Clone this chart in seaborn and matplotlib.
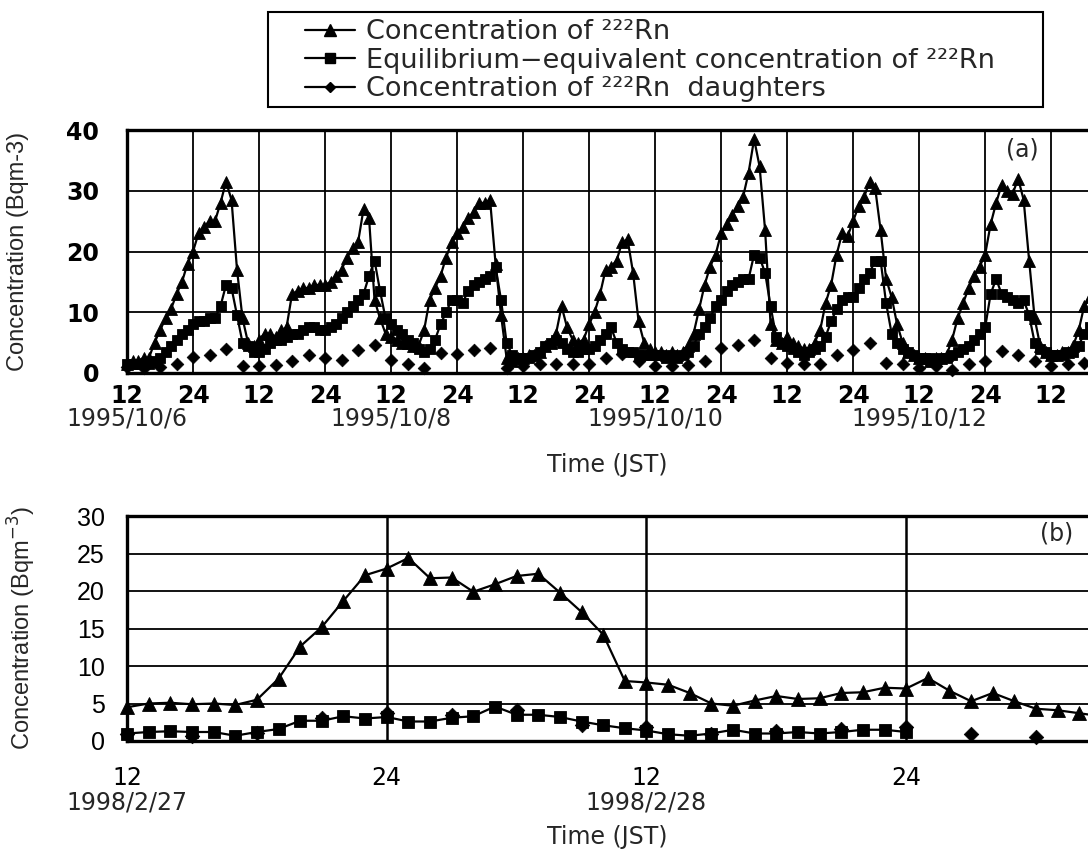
import numpy as np
import pandas as pd
import matplotlib
matplotlib.use("Agg")
import matplotlib.pyplot as plt
import matplotlib.transforms as mtrans
from matplotlib.lines import Line2D
from matplotlib.patches import Rectangle
import seaborn as sns

# ---------------- data : panel (a), hourly from 1995/10/6 12:00 JST ----------------
a_rn = [
    1.5, 2.0, 2.0, 2.5, 2.5, 5.0, 7.0, 9.0, 10.5, 13.0, 15.0, 18.0,
    20.0, 23.0, 24.0, 25.0, 25.0, 28.0, 31.5, 28.5, 17.0, 9.0, 5.0, 4.5,
    5.5, 6.5, 6.5, 6.0, 7.0, 7.5, 13.0, 13.5, 14.0, 14.0, 14.5, 14.5,
    14.5, 15.0, 16.0, 17.0, 19.0, 20.5, 21.5, 27.0, 25.5, 12.0, 9.0, 6.5,
    6.0, 5.5, 5.0, 5.0, 4.5, 4.5, 7.0, 12.0, 14.0, 16.0, 19.0, 21.5,
    23.0, 24.0, 25.5, 26.5, 28.0, 28.0, 28.5, 18.0, 9.5, 2.5, 2.0, 2.5,
    2.5, 3.0, 3.0, 3.5, 4.5, 5.0, 6.5, 11.0, 7.5, 5.5, 5.0, 5.5,
    8.0, 10.0, 13.0, 17.0, 17.5, 18.5, 21.5, 22.0, 16.5, 8.5, 5.0, 4.0,
    3.5, 3.5, 3.0, 3.5, 3.0, 3.5, 4.5, 6.5, 10.5, 14.5, 17.5, 19.5,
    23.0, 24.5, 26.0, 27.5, 29.0, 33.0, 38.5, 34.0, 23.5, 8.0, 5.5, 5.0,
    6.0, 5.0, 4.5, 4.0, 4.0, 5.0, 7.0, 11.5, 14.5, 19.5, 23.0, 22.5,
    25.0, 27.5, 29.0, 31.5, 30.5, 23.5, 15.5, 12.5, 8.0, 5.0, 3.5, 3.0,
    2.5, 2.5, 2.0, 2.5, 2.5, 3.0, 5.5, 9.0, 11.5, 14.0, 16.0, 17.5,
    19.5, 24.5, 28.0, 31.0, 30.0, 29.5, 32.0, 28.5, 18.5, 9.0, 4.5, 3.5,
    3.0, 3.0, 3.5, 3.5, 4.5, 7.0, 11.0, 12.5,
]
a_eec = [
    1.5, 1.5, 1.5, 1.5, 1.5, 2.0, 2.5, 3.5, 4.5, 5.5, 6.5, 7.0,
    8.0, 8.5, 8.5, 9.0, 9.0, 11.0, 14.5, 14.0, 9.5, 5.0, 4.5, 3.5,
    3.5, 4.0, 5.0, 5.5, 5.5, 6.0, 6.5, 6.5, 7.0, 7.5, 7.5, 7.0,
    7.0, 7.5, 8.0, 9.0, 10.0, 11.0, 12.0, 13.0, 16.0, 18.5, 13.5, 9.0,
    8.0, 7.0, 6.5, 5.5, 5.0, 4.0, 3.5, 4.0, 5.5, 8.0, 10.0, 12.0,
    12.0, 11.5, 13.5, 14.5, 15.0, 15.5, 16.0, 17.5, 12.0, 5.0, 3.0, 2.5,
    2.5, 2.5, 3.0, 3.5, 4.5, 5.0, 5.5, 5.0, 4.0, 3.5, 3.5, 4.0,
    4.0, 4.5, 5.5, 6.5, 7.5, 5.0, 4.0, 3.5, 3.5, 3.0, 3.0, 3.0,
    3.0, 3.0, 2.5, 3.0, 2.5, 3.0, 3.5, 4.5, 6.5, 7.5, 9.0, 11.0,
    12.0, 13.5, 14.5, 15.0, 15.5, 15.5, 19.5, 19.0, 16.5, 11.0, 6.0, 5.0,
    4.5, 4.0, 3.5, 3.0, 3.5, 4.0, 4.5, 6.0, 8.5, 10.5, 12.0, 12.5,
    12.5, 14.0, 15.5, 16.5, 18.5, 18.5, 11.5, 6.5, 5.0, 4.0, 3.5, 3.0,
    2.5, 2.5, 2.5, 2.0, 2.5, 2.5, 3.0, 3.5, 4.0, 4.5, 5.5, 6.5,
    7.5, 13.0, 15.5, 13.0, 12.5, 12.0, 11.5, 12.0, 9.5, 5.0, 4.0, 3.5,
    3.0, 3.0, 3.0, 3.5, 3.5, 4.5, 6.5, 7.5,
]
# daughters, every 3 hours
a_dau = [
    1.0, 0.8, 1.0, 1.5, 2.7, 2.9, 3.9, 1.1,
    1.1, 1.3, 2.0, 2.9, 2.5, 2.2, 3.8, 4.6,
    2.2, 1.4, 0.8, 3.3, 3.1, 3.8, 4.1, 0.8,
    1.1, 1.4, 1.5, 1.5, 1.4, 2.5, 3.1, 1.9,
    1.1, 1.2, 1.3, 2.0, 4.1, 4.6, 5.5, 2.5,
    1.6, 1.5, 1.5, 3.0, 3.8, 4.9, 1.6, 1.4,
    0.8, 1.1, 0.5, 1.4, 1.9, 3.6, 3.0, 1.9,
    1.1, 1.4, 1.6,
]
a_tick_labels = ["12", "24"]
a_dates = ["1995/10/6", "1995/10/8", "1995/10/10", "1995/10/12"]

# ---------------- data : panel (b), hourly from 1998/2/27 12:00 JST ----------------
b_rn = [
    4.5, 5.0, 5.1, 4.9, 5.0, 4.8, 5.5, 8.3, 12.6, 15.2, 18.7, 22.1,
    23.0, 24.4, 21.7, 21.8, 19.9, 20.9, 22.0, 22.3, 19.8, 17.2, 14.2, 8.0,
    7.8, 7.5, 6.4, 5.0, 4.7, 5.4, 6.0, 5.6, 5.7, 6.4, 6.5, 7.1,
    7.0, 8.4, 6.7, 5.3, 6.4, 5.3, 4.3, 4.1, 3.7, 3.3,
]
b_eec = [
    1.0, 1.2, 1.3, 1.2, 1.2, 0.7, 1.2, 1.6, 2.7, 2.7, 3.3, 3.0,
    3.2, 2.6, 2.6, 3.1, 3.3, 4.6, 3.5, 3.5, 3.2, 2.6, 2.1, 1.7,
    1.4, 0.9, 0.7, 1.0, 1.5, 1.0, 1.0, 1.2, 1.0, 1.2, 1.5, 1.5,
    1.2,
]
b_dau = [1.0, 0.7, 1.1, 3.1, 3.8, 3.5, 4.2, 2.2, 1.9, 1.0, 1.3, 1.6, 1.9, 0.9, 0.5]
b_tick_labels = ["12", "24"]
b_dates = ["1998/2/27", "1998/2/28"]

legend_labels = [
    "Concentration of \u00b2\u00b2\u00b2Rn",
    "Equilibrium\u2212equivalent concentration of \u00b2\u00b2\u00b2Rn",
    "Concentration of \u00b2\u00b2\u00b2Rn  daughters",
]

# ---------------- style ----------------
sns.set_theme(style="white")
plt.rcParams["font.family"] = ["DejaVu Sans"]
plt.rcParams["mathtext.fontset"] = "dejavusans"
NARROW = ["Liberation Sans Narrow", "Liberation Sans", "DejaVu Sans"]
SANS = ["DejaVu Sans"]

W, H = 1088, 849
fig = plt.figure(figsize=(W / 100, H / 100), dpi=100)
fig.patch.set_facecolor("white")


def px_axes(l, t, r, b):
    return fig.add_axes([l / W, 1 - b / H, (r - l) / W, (b - t) / H])


axA = px_axes(127, 130, 1088, 373)
axB = px_axes(127, 516, 1088, 741)


def draw(ax, rn, eec, dau, ms_tri, ms_sq, s_dia):
    df1 = pd.DataFrame({"hour": np.arange(len(rn)), "val": rn})
    df2 = pd.DataFrame({"hour": np.arange(len(eec)), "val": eec})
    df3 = pd.DataFrame({"hour": np.arange(len(dau)) * 3, "val": dau})
    sns.scatterplot(data=df3, x="hour", y="val", ax=ax, color="black",
                    marker="D", s=s_dia, edgecolor="black", linewidth=0.5,
                    clip_on=False, zorder=3)
    sns.lineplot(data=df1, x="hour", y="val", ax=ax, color="black", lw=1.6,
                 marker="^", markersize=ms_tri, markeredgecolor="black",
                 markeredgewidth=0.6, estimator=None, clip_on=False, zorder=4)
    sns.lineplot(data=df2, x="hour", y="val", ax=ax, color="black", lw=1.6,
                 marker="s", markersize=ms_sq, markeredgecolor="black",
                 markeredgewidth=0.6, estimator=None, clip_on=False, zorder=5)


draw(axA, a_rn, a_eec, a_dau, 8.5, 7.0, 42)
draw(axB, b_rn, b_eec, b_dau, 10.5, 8.0, 55)

axA.set_xlim(0, 174.7)
axA.set_ylim(0, 40)
axA.set_yticks([0, 10, 20, 30, 40])
a_ticks = np.arange(0, 175, 12)
axA.set_xticks(a_ticks)
axA.set_xticklabels([a_tick_labels[i % 2] for i in range(len(a_ticks))])

axB.set_xlim(0, 44.4)
axB.set_ylim(0, 30)
axB.set_yticks([0, 5, 10, 15, 20, 25, 30])
axB.set_xticks([0, 12, 24, 36])
axB.set_xticklabels([b_tick_labels[i % 2] for i in range(4)])

for ax in (axA, axB):
    ax.set_xlabel("")
    ax.set_ylabel("")
    ax.grid(True, color="black", lw=1.3)
    ax.set_axisbelow(True)
    for sp in ("left", "top", "bottom"):
        ax.spines[sp].set_visible(True)
        ax.spines[sp].set_color("black")
        ax.spines[sp].set_linewidth(2.4)
    ax.spines["right"].set_visible(False)
    ax.tick_params(axis="both", length=0, colors="black")
    ax.set_facecolor("white")

axB.grid(True, axis="x", color="black", lw=1.8)

axA.tick_params(axis="y", pad=20)
axA.tick_params(axis="x", pad=8)
for t in axA.get_yticklabels():
    t.set_fontsize(17)
    t.set_fontweight("bold")
for t in axA.get_xticklabels():
    t.set_fontsize(17)
    t.set_family(SANS)
    t.set_fontweight("bold")

axB.tick_params(axis="y", pad=16)
axB.tick_params(axis="x", pad=18)
for t in axB.get_yticklabels():
    t.set_fontsize(18)
    t.set_family(NARROW)
for t in axB.get_xticklabels():
    t.set_fontsize(17)
    t.set_family(SANS)

# date labels under the tick labels
trA = mtrans.blended_transform_factory(axA.transData, axA.transAxes)
for i, d in enumerate(a_dates):
    axA.text(i * 48, (373 - 419) / 243, d, transform=trA, ha="center", va="center",
             fontsize=17, family=SANS)
trB = mtrans.blended_transform_factory(axB.transData, axB.transAxes)
for i, d in enumerate(b_dates):
    axB.text(i * 24, (741 - 803) / 225, d, transform=trB, ha="center", va="center",
             fontsize=17, family=SANS)

fig.text(607 / W, 1 - 465 / H, "Time (JST)", ha="center", va="center", fontsize=17, family=SANS)
fig.text(607 / W, 1 - 837 / H, "Time (JST)", ha="center", va="center", fontsize=17, family=SANS)

axA.set_ylabel("Concentration (Bqm-3)", fontsize=17, family=NARROW)
axA.yaxis.set_label_coords((18 - 127) / 961, 0.5)
axA.yaxis.label.set_va("center")
axB.set_ylabel("Concentration (Bqm$^{-3}$)", fontsize=17, family=NARROW)
axB.yaxis.set_label_coords((22 - 127) / 961, 0.5)
axB.yaxis.label.set_va("center")

fig.text(1022 / W, 1 - 150 / H, "(a)", ha="center", va="center", fontsize=17, family=SANS)
fig.text(1057 / W, 1 - 534 / H, "(b)", ha="center", va="center", fontsize=17, family=SANS)

# legend box
fig.patches.append(Rectangle((268 / W, 1 - 107 / H), (1043 - 268) / W, (107 - 12) / H,
                             transform=fig.transFigure, fill=False, edgecolor="black",
                             lw=1.5, zorder=10))
handles = [
    Line2D([], [], color="black", lw=1.6, marker="^", markersize=8),
    Line2D([], [], color="black", lw=1.6, marker="s", markersize=7),
    Line2D([], [], color="black", lw=1.6, marker="D", markersize=5.5),
]
fig.legend(handles, legend_labels, loc="upper left", bbox_to_anchor=(305 / W, 1 - 19 / H),
           frameon=False, fontsize=19.5, handlelength=1.85, handletextpad=0.4,
           labelspacing=0.1, borderpad=0, borderaxespad=0)

fig.savefig("out.png", dpi=100, facecolor="white")
